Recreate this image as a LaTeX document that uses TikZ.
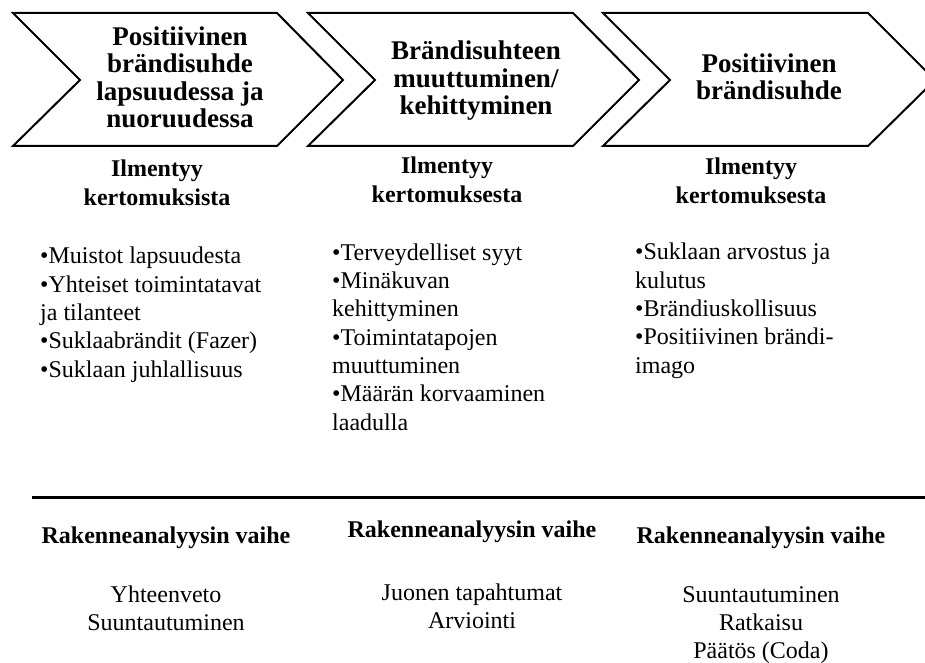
\documentclass[tikz,border=0pt]{standalone}
\usepackage{fontspec}
\setmainfont{Liberation Serif}
\begin{document}
\begin{tikzpicture}[x=1pt,y=-1pt,
  chev/.style={draw=black, line width=2pt, line join=miter, fill=white},
  title/.style={font=\fontsize{27}{27.5}\selectfont\bfseries, align=center, inner sep=0pt, anchor=base},
  sub/.style={font=\fontsize{24}{28.3}\selectfont\bfseries, align=center, inner sep=0pt, anchor=base},
  items/.style={font=\fontsize{24}{28.3}\selectfont, align=left, inner sep=0pt, anchor=base west},
  phase/.style={font=\fontsize{24}{28}\selectfont\bfseries, inner sep=0pt, anchor=base},
  steps/.style={font=\fontsize{24}{28}\selectfont, align=center, inner sep=0pt, anchor=base}]
\useasboundingbox (0,0) rectangle (925,663);
\clip (0,0) rectangle (925,663);

% three chevron arrows
\draw[chev] (13,13) -- (277,13) -- (343,80) -- (277,146) -- (13,146) -- (80,80) -- cycle;
\draw[chev] (308,13) -- (573,13) -- (639,80) -- (573,146) -- (308,146) -- (375,80) -- cycle;
\draw[chev] (603,13) -- (868,13) -- (935,80) -- (868,146) -- (603,146) -- (670,80) -- cycle;

% chevron titles (positioned by the baseline of their last line)
\node[title] (t1) at (180,128) {Positiivinen\\brändisuhde\\lapsuudessa ja\\nuoruudessa};
\node[title] (t2) at (476,115) {Brändisuhteen\\muuttuminen/\\kehittyminen};
\node[title] (t3) at (769,100) {Positiivinen\\brändisuhde};

% subheadings
\node[sub] (s1) at (157,205) {Ilmentyy\\kertomuksista};
\node[sub] (s2) at (447,202) {Ilmentyy\\kertomuksesta};
\node[sub] (s3) at (751,203) {Ilmentyy\\kertomuksesta};

% bullet lists
\node[items] (l1) at (40,377) {•Muistot lapsuudesta\\•Yhteiset toimintatavat\\ja tilanteet\\•Suklaabrändit (Fazer)\\•Suklaan juhlallisuus};
\node[items] (l2) at (332,430) {•Terveydelliset syyt\\•Minäkuvan\\kehittyminen\\•Toimintatapojen\\muuttuminen\\•Määrän korvaaminen\\laadulla};
\node[items] (l3) at (635,373) {•Suklaan arvostus ja\\kulutus\\•Brändiuskollisuus\\•Positiivinen brändi-\\imago};

% separator rule
\coordinate (rs) at (32,497);
\coordinate (re) at (925,497);
\draw[line width=3pt] (rs) -- (re);

% structure analysis phases
\node[phase] (p1) at (166,543) {Rakenneanalyysin vaihe};
\node[phase] (p2) at (472,537) {Rakenneanalyysin vaihe};
\node[phase] (p3) at (761,543) {Rakenneanalyysin vaihe};

\node[steps] (q1) at (166,630) {Yhteenveto\\Suuntautuminen};
\node[steps] (q2) at (472,628) {Juonen tapahtumat\\Arviointi};
\node[steps] (q3) at (761,658) {Suuntautuminen\\Ratkaisu\\Päätös (Coda)};
\end{tikzpicture}
\end{document}
